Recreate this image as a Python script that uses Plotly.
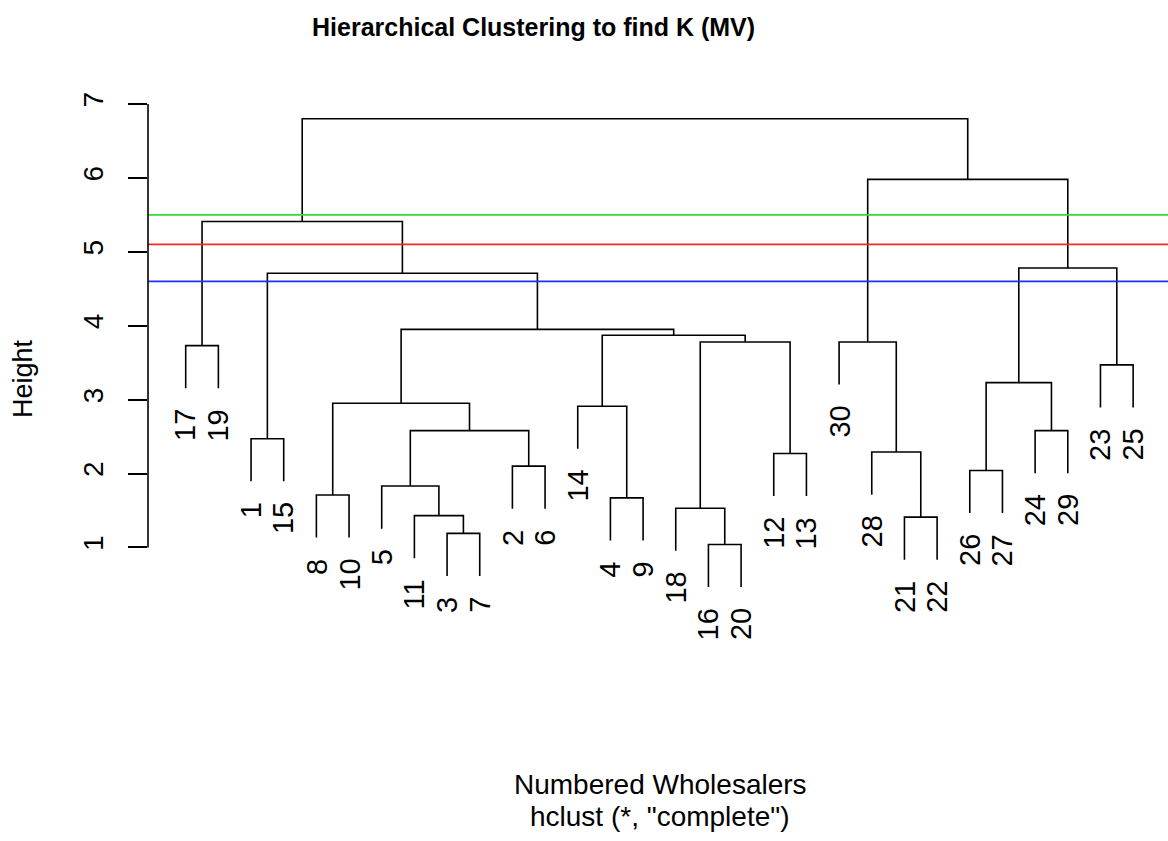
import plotly.graph_objects as go

# ---------------- data ----------------
title_text = "Hierarchical Clustering to find K (MV)"
x_title_lines = ["Numbered Wholesalers", 'hclust (*, "complete")']
y_title = "Height"

leaf_order = [17, 19, 1, 15, 8, 10, 5, 11, 3, 7, 2, 6, 14, 4, 9, 18, 16, 20,
              12, 13, 30, 28, 21, 22, 26, 27, 24, 29, 23, 25]

# R-style merge matrix: negative = leaf id, positive = earlier merge (1-based)
merge_left = [-16, -3, -21, -11, -18, -4, -8, -5, -26, -2, -12, -28, -1, 8, -24,
              -14, 7, 9, -23, -17, 5, -30, 16, 17, 13, 18, 20, 22, 27]
merge_right = [-20, -7, -22, 2, 1, -9, -10, 4, -27, -6, -13, 3, -15, 10, -29,
               6, 14, 15, -25, -19, 11, 12, 21, 23, 24, 19, 25, 26, 28]
merge_height = [1.04, 1.19, 1.41, 1.43, 1.53, 1.67, 1.71, 1.83, 2.04, 2.10,
                2.27, 2.29, 2.47, 2.58, 2.58, 2.91, 2.95, 3.23, 3.47, 3.73,
                3.78, 3.78, 3.87, 3.95, 4.71, 4.78, 5.41, 5.98, 6.80]

cut_heights = [5.5, 5.1, 4.6]
cut_colors = ["rgb(50,220,50)", "rgb(245,40,40)", "rgb(30,50,255)"]

y_ticks = [1, 2, 3, 4, 5, 6, 7]

# ---------------- layout geometry (pixels) ----------------
W, H = 1168, 841
PX_Y = 73.9          # pixels per height unit
Y7 = 104.0           # pixel row of height 7
PX_X = 32.67         # pixels per leaf
X1 = 185.7           # pixel column of first leaf
ML, MR, MT, MB = 148, 0, 78, 175

plot_w = W - ML - MR
plot_h = H - MT - MB
x0 = 1 - (X1 - ML) / PX_X
x1 = x0 + plot_w / PX_X
y_hi = 7 + (Y7 - MT) / PX_Y
y_lo = y_hi - plot_h / PX_Y


def px_to_paper_x(px):
    return (px - ML) / plot_w


def px_to_paper_y(py):
    return (H - MB - py) / plot_h


# ---------------- dendrogram geometry ----------------
hang = 0.1 * (max(merge_height) - min(merge_height))
leaf_pos = {leaf: i + 1 for i, leaf in enumerate(leaf_order)}
node_x = {}
xs, ys = [], []
leaf_bottom = {}
for k, (a, b, h) in enumerate(zip(merge_left, merge_right, merge_height), start=1):
    ends = []
    for c in (a, b):
        if c < 0:
            cx = leaf_pos[-c]
            cy = h - hang
            leaf_bottom[-c] = cy
        else:
            cx = node_x[c]
            cy = merge_height[c - 1]
        ends.append((cx, cy))
    ends.sort()
    (ax, ay), (bx, by) = ends
    xs += [ax, ax, bx, bx, None]
    ys += [ay, h, h, by, None]
    node_x[k] = (ax + bx) / 2

fig = go.Figure()
fig.add_trace(go.Scatter(x=xs, y=ys, mode="lines",
                         line=dict(color="black", width=1.6),
                         hoverinfo="skip", showlegend=False))

for hc, col in zip(cut_heights, cut_colors):
    fig.add_trace(go.Scatter(x=[x0, x1], y=[hc, hc], mode="lines",
                             line=dict(color=col, width=1.6),
                             hoverinfo="skip", showlegend=False))

FONT = "Liberation Sans, Arial, sans-serif"
annotations = []
for leaf in leaf_order:
    annotations.append(dict(
        x=leaf_pos[leaf], y=leaf_bottom[leaf], xref="x", yref="y",
        text=str(leaf), showarrow=False, textangle=-90,
        xanchor="center", yanchor="top", yshift=-19,
        font=dict(family=FONT, size=29, color="black")))

# title
annotations.append(dict(
    x=px_to_paper_x(533), y=px_to_paper_y(27), xref="paper", yref="paper",
    text="<b>" + title_text + "</b>", showarrow=False,
    xanchor="center", yanchor="middle",
    font=dict(family=FONT, size=25, color="black")))
# y title
annotations.append(dict(
    x=px_to_paper_x(23), y=px_to_paper_y(379), xref="paper", yref="paper",
    text=y_title, showarrow=False, textangle=-90,
    xanchor="center", yanchor="middle",
    font=dict(family=FONT, size=27, color="black")))
# x title lines
for line_text, py in zip(x_title_lines, [784, 816]):
    annotations.append(dict(
        x=px_to_paper_x(660), y=px_to_paper_y(py), xref="paper", yref="paper",
        text=line_text, showarrow=False, borderpad=0,
        xanchor="center", yanchor="middle",
        font=dict(family=FONT, size=28, color="black")))

shapes = [dict(type="line", xref="paper", yref="y", x0=0, x1=0,
               y0=min(y_ticks), y1=max(y_ticks),
               line=dict(color="black", width=1.6))]

fig.update_layout(
    width=W, height=H,
    margin=dict(l=ML, r=MR, t=MT, b=MB, pad=0),
    paper_bgcolor="white", plot_bgcolor="white",
    xaxis=dict(range=[x0, x1], showgrid=False, zeroline=False,
               showticklabels=False, ticks="", showline=False, fixedrange=True),
    yaxis=dict(range=[y_lo, y_hi], showgrid=False, zeroline=False,
               showline=False, tickvals=y_ticks, ticktext=[str(t) for t in y_ticks],
               ticks="outside", ticklen=19, tickwidth=1.6, tickcolor="black",
               tickangle=-90, automargin=False, ticklabelstandoff=14,
               tickfont=dict(family=FONT, size=28, color="black")),
    annotations=annotations,
    shapes=shapes,
    showlegend=False,
)

fig.write_html("out.html",
               config={"displayModeBar": False},
               post_script="document.body.style.margin='0';"
                           "document.body.style.overflow='hidden';")
